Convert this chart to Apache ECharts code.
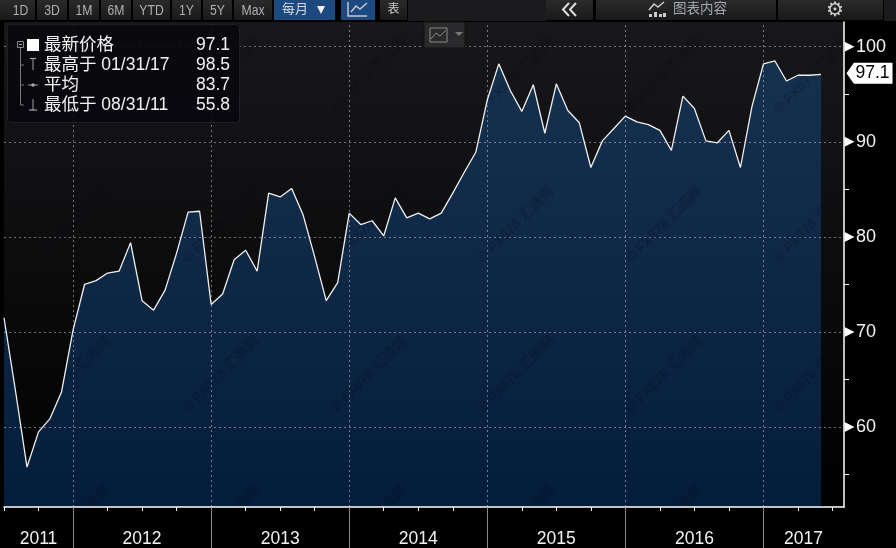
<!DOCTYPE html>
<html><head><meta charset="utf-8">
<style>html,body{margin:0;padding:0;background:#000}#c{width:896px;height:548px}</style>
<script src="https://cdn.jsdelivr.net/npm/echarts@6/dist/echarts.min.js"></script>
</head><body><div id="c"></div>
<script>
const values = [71.5,63.8,55.8,59.5,60.9,63.7,70.2,75.0,75.4,76.2,76.4,79.4,73.3,72.3,74.4,78.3,82.6,82.7,72.9,74.0,77.6,78.6,76.4,84.6,84.2,85.1,82.3,77.9,73.3,75.2,82.5,81.3,81.7,80.1,84.1,82.0,82.5,81.9,82.5,84.6,86.8,88.9,94.4,98.2,95.4,93.2,96.0,90.9,96.1,93.3,92.0,87.3,90.1,91.4,92.7,92.1,91.8,91.2,89.1,94.8,93.5,90.1,89.9,91.2,87.3,93.7,98.2,98.5,96.4,97.0,97.0,97.1];
const startYear = 2011, startMonth = 6, extraMonths = 2;
const categories = [];
for (let i = 0; i < values.length + extraMonths; i++) {
  const m = startMonth - 1 + i;
  categories.push((startYear + Math.floor(m / 12)) + '-' + String(m % 12 + 1).padStart(2, '0'));
}
const yearLabelMonths = ['2011-09','2012-06','2013-06','2014-06','2015-06','2016-06','2017-04'];
const yearBreaks = ['2011-12','2012-12','2013-12','2014-12','2015-12','2016-12'];
const gridValues = [60,70,80,90,100];
const minorTicks = [55,65,75,85,95];
const latest = 97.1;
const rangeButtons = ['1D','3D','1M','6M','YTD','1Y','5Y','Max'];
const legendRows = [['最新价格','97.1'],['最高于 01/31/17','98.5'],['平均','83.7'],['最低于 08/31/11','55.8']];
const watermarkCols = [72,221,369,516,664,812];
const watermarkRows = [76,225,375,524];

const FONT = '"Liberation Sans","Noto Sans CJK SC",sans-serif';
const chart = echarts.init(document.getElementById('c'), null, {renderer:'canvas'});
const lin = (a,b)=>({type:'linear',x:0,y:0,x2:0,y2:1,colorStops:[{offset:0,color:a},{offset:1,color:b}]});

const g = [];
const btnX = [[0,35],[37,67],[69,99],[101,131],[133,170],[172,201],[203,232],[234,272]];
const rect=(x,y,w,h,fill,extra)=>Object.assign({type:'rect',shape:{x,y,width:w,height:h},style:{fill},silent:true,z:20},extra||{});
const text=(x,y,t,size,fill,align,extra)=>Object.assign({type:'text',x,y,silent:true,z:21,style:{text:t,font:size+'px '+FONT,fill,textAlign:align||'left',textVerticalAlign:'middle'}},extra||{});
const pl=(pts,stroke,w)=>({type:'polyline',shape:{points:pts},silent:true,z:21,style:{stroke,lineWidth:w||1.5,fill:null}});
g.push(rect(408,0,138,21,'#1b1b1e'));
g.push(rect(884,0,12,21,'#1b1b1e'));
rangeButtons.forEach((t,i)=>{
  const [a,b]=btnX[i];
  g.push(rect(a,0,b-a,20,lin('#2a2a2a','#191919')));
  g.push(text((a+b)/2+(i==0?3:0),10.5,t,14.5,'#aeb0b4','center',{scaleX:0.84}));
});
g.push(rect(274,0,61,20,'#1c4a80'));
g.push(text(282,9.5,'每月',13,'#d4d8de'));
g.push({type:'polygon',shape:{points:[[317,6],[325,6],[321,14]]},style:{fill:'#eee'},silent:true,z:21});
g.push(rect(341,0,34,20,'#1c4a80'));
g.push(pl([[348,2],[348,16],[367,16]],'#c8c8c8',1.5));
g.push(pl([[351,12],[356,6],[360,9],[367,3]],'#c8c8c8',1.5));
g.push(rect(380,0,27,20,lin('#2a2a2a','#191919')));
g.push(text(393.5,10,'表',12,'#c8c8c8','center'));
g.push(rect(546,0,47,20,lin('#2a2a2a','#191919')));
g.push(pl([[569,3],[563,9.5],[569,16]],'#ddd',2));
g.push(pl([[576,3],[570,9.5],[576,16]],'#ddd',2));
g.push(rect(596,0,180,20,lin('#2a2a2a','#191919')));
g.push(pl([[649,10],[654,4],[658,7],[664,2]],'#ccc',1.5));
[[649,14,3,3],[654,12,3,5],[659,14,3,3],[663,13,3,4]].forEach(r=>g.push(rect(r[0],r[1],r[2],r[3],'#ccc',{z:21})));
g.push(text(673,9.5,'图表内容',13.5,'#a4a9b2','left'));
g.push(rect(778,0,105,20,lin('#2a2a2a','#191919')));
g.push(text(835,10,'⚙',20,'#ccc','center'));
// small chart-type widget
g.push(rect(424,22,41,26,'#2a2a2c',{style:{fill:'#2a2a2c',stroke:'#111',lineWidth:1}}));
g.push(rect(430,28,17,14,'none',{style:{fill:'none',stroke:'#8a8a8a',lineWidth:1}}));
g.push(pl([[431,39],[436,33],[440,36],[446,30]],'#8a8a8a',1));
g.push({type:'polygon',shape:{points:[[455,32],[463,32],[459,36]]},style:{fill:'#777'},silent:true,z:21});
// watermark
watermarkRows.forEach(y=>watermarkCols.forEach(x=>{
  g.push({type:'text',x,y,rotation:Math.PI/4,silent:true,z:6,style:{text:'© FX678 汇通网',font:'bold 14px '+FONT,fill:'rgba(10,14,22,0.24)',textAlign:'center',textVerticalAlign:'middle'}});
}));
// cover below plot and right of plot for clipped watermark
g.push(rect(0,507,896,41,'#000',{z:7}));
g.push(rect(845,22,51,485,'#000',{z:7}));
// legend
g.push({type:'rect',shape:{x:7.5,y:24.5,width:232,height:98,r:3},style:{fill:'rgba(7,7,13,0.86)',stroke:'#202024',lineWidth:1},silent:true,z:20});
const rowY=[45,65,85,105];
legendRows.forEach((r,i)=>{
  g.push(text(44,rowY[i],r[0],17.5,'#f2f2f2'));
  g.push(text(230,rowY[i],r[1],17.5,'#f2f2f2','right'));
});
g.push(rect(17.5,41.5,6,6,'none',{style:{fill:'none',stroke:'#8a8a8a',lineWidth:1}}));
g.push(pl([[19,44.5],[22,44.5]],'#aaa',1));
g.push(pl([[20.5,48],[20.5,105],[24,105]],'#777',1));
g.push(pl([[20.5,65],[24,65]],'#777',1));
g.push(pl([[20.5,85],[24,85]],'#777',1));
g.push(rect(27,39,12,12,'#fff'));
g.push(pl([[30,58.5],[36,58.5]],'#aaa',1.2));
g.push(pl([[33,58.5],[33,70]],'#888',1.2));
g.push(pl([[28,85],[38,85]],'#888',1.2));
g.push({type:'circle',shape:{cx:33,cy:85,r:1.8},style:{fill:'#aaa'},silent:true,z:21});
g.push(pl([[33,99],[33,110]],'#888',1.2));
g.push(pl([[29,110],[37,110]],'#aaa',1.2));

const vals = values.concat(Array(extraMonths).fill(null));
const lastCat = categories[categories.length-1];
const gl = {color:'rgba(255,255,255,0.42)',type:[2,3],width:1};
const option = {
  animation:false,
  backgroundColor:'#000',
  grid:{left:4,right:52,top:22,bottom:41,show:true,borderWidth:0,backgroundColor:lin('#18181b','#000000')},
  graphic:{elements:g},
  xAxis:[{
    type:'category',data:categories,boundaryGap:false,z:8,
    axisLine:{lineStyle:{color:'#fff',width:1.5}},
    axisTick:{alignWithLabel:true,length:4,lineStyle:{color:'#fff',width:1},interval:(i)=>i%3===0},
    axisLabel:{interval:(i,v)=>yearLabelMonths.includes(v),margin:23,
      formatter:(v)=>v.slice(0,4)==='2017'?'{s|2017}':v.slice(0,4),
      color:'#f2f2f2',fontSize:17.5,fontFamily:FONT,
      rich:{s:{color:'#f2f2f2',fontSize:17.5,fontFamily:FONT,padding:[0,12,0,0]}}},
    splitLine:{show:false}
  },{
    type:'category',data:categories,boundaryGap:false,z:8,position:'bottom',
    axisLine:{show:false},
    axisTick:{length:41,lineStyle:{color:'#8a8a8a',width:1},interval:(i,v)=>yearBreaks.includes(v)},
    axisLabel:{show:false},splitLine:{show:false}
  }],
  yAxis:[{
    type:'value',position:'right',min:51.6,max:102.6,scale:true,z:8,
    axisLine:{show:true,lineStyle:{color:'#fff',width:1.5}},
    axisTick:{show:true,customValues:minorTicks,length:5,lineStyle:{color:'#fff',width:1}},
    axisLabel:{customValues:gridValues,margin:12,color:'#f2f2f2',fontSize:18,fontFamily:FONT},
    splitLine:{show:false}
  }],
  series:[{
    type:'line',name:'area',data:vals,z:2,symbol:'none',silent:true,
    lineStyle:{width:0},areaStyle:{color:lin('#16314f','#041d3b'),opacity:1},
    markLine:{silent:true,symbol:'none',label:{show:false},lineStyle:gl,
      data:gridValues.map(v=>({yAxis:v})).concat(yearBreaks.map(v=>({xAxis:v})))}
  },{
    type:'line',name:'line',data:vals,z:9,symbol:'none',silent:true,
    lineStyle:{color:'#f0f0f0',width:1.3},
    markPoint:{silent:true,z:9,
      data:gridValues.map(v=>({coord:[lastCat,v],symbol:'triangle',symbolRotate:-90,symbolSize:[10,10],symbolOffset:[5.5,0],
        itemStyle:{color:'#fff'},label:{show:false}})).concat([{
        coord:[lastCat,latest],value:latest,symbol:'path://M0,50 L16,0 L100,0 L100,100 L16,100 Z',symbolKeepAspect:false,
        symbolSize:[46,21],symbolOffset:[25.5,-1],itemStyle:{color:'#fff'},
        label:{show:true,position:'inside',offset:[3,0],color:'#000',fontSize:17.5,fontFamily:FONT,formatter:String(latest)}
      }])
    }
  }]
};
chart.setOption(option);
</script></body></html>
